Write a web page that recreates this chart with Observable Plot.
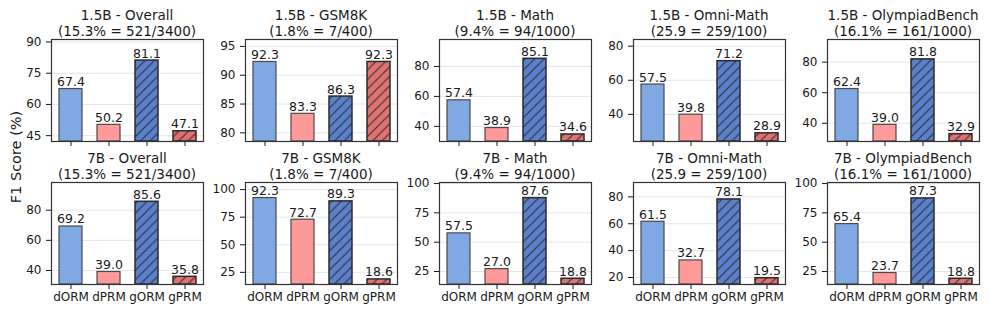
<!DOCTYPE html>
<html><head><meta charset="utf-8">
<script src="https://cdn.jsdelivr.net/npm/d3@7"></script>
<script src="https://cdn.jsdelivr.net/npm/@observablehq/plot@0.6"></script>
<style>
body{margin:0;background:#fff;}
#chart{position:relative;width:990px;height:314px;font-family:"DejaVu Sans",sans-serif;color:#1a1a1a;overflow:hidden;}
.title{position:absolute;text-align:center;font-size:13.5px;line-height:16px;white-space:nowrap;width:200px;}
.panel{position:absolute;}
.ylab{position:absolute;width:140px;text-align:center;font-size:14.5px;line-height:16px;transform:rotate(-90deg);white-space:nowrap;}
</style></head><body>
<svg width="0" height="0" style="position:absolute">
<defs>
<pattern id="hatchBlue" patternUnits="userSpaceOnUse" width="9.5" height="9.5">
<rect width="9.5" height="9.5" fill="#5b80cc"/>
<path d="M-2,2 L2,-2 M0,9.5 L9.5,0 M7.5,11.5 L11.5,7.5" stroke="#2b2b2b" stroke-width="1"/>
</pattern>
<pattern id="hatchRed" patternUnits="userSpaceOnUse" width="9.5" height="9.5">
<rect width="9.5" height="9.5" fill="#e07272"/>
<path d="M-2,2 L2,-2 M0,9.5 L9.5,0 M7.5,11.5 L11.5,7.5" stroke="#2b2b2b" stroke-width="1"/>
</pattern>
</defs>
</svg>
<div id="chart"></div>
<script>
const models = ["dORM", "dPRM", "gORM", "gPRM"];
const sizes = ["1.5B", "7B"];
const benchmarks = ["Overall", "GSM8K", "Math", "Omni-Math", "OlympiadBench"];
const subtitles = ["(15.3% = 521/3400)", "(1.8% = 7/400)", "(9.4% = 94/1000)", "(25.9 = 259/100)", "(16.1% = 161/1000)"];
const scores15B = [
  [67.4, 50.2, 81.1, 47.1],
  [92.3, 83.3, 86.3, 92.3],
  [57.4, 38.9, 85.1, 34.6],
  [57.5, 39.8, 71.2, 28.9],
  [62.4, 39.0, 81.8, 32.9]
];
const scores7B = [
  [69.2, 39.0, 85.6, 35.8],
  [92.3, 72.7, 89.3, 18.6],
  [57.5, 27.0, 87.6, 18.8],
  [61.5, 32.7, 78.1, 19.5],
  [65.4, 23.7, 87.3, 18.8]
];
const yDomains15B = [[42.2, 91.2], [78.5, 96.2], [29.9, 98.0], [24.1, 83.9], [28.1, 94.8]];
const yDomains7B = [[30.7, 98.4], [14.0, 106.4], [13.9, 100.9], [14.8, 90.7], [13.9, 100.9]];
const yTicks15B = [[45, 60, 75, 90], [80, 85, 90, 95], [40, 60, 80], [40, 60, 80], [40, 60, 80]];
const yTicks7B = [[40, 60, 80], [25, 50, 75, 100], [25, 50, 75, 100], [20, 40, 60, 80], [25, 50, 75, 100]];
const yLabel = "F1 Score (%)";

// styles
const barFill = {dORM: "#80a8e2", dPRM: "#ff9a9a", gORM: "url(#hatchBlue)", gPRM: "url(#hatchRed)"};
const barStroke = {dORM: "#4a4a4a", dPRM: "#4a4a4a", gORM: "#2b2b2b", gPRM: "#2b2b2b"};
const barStrokeW = {dORM: 1.2, dPRM: 1.2, gORM: 1.5, gPRM: 1.5};

const chart = document.getElementById("chart");
const frameW = 152, frameH = 102;
const ML = 40, MR = 6, MT = 6, MB = 28;
const colLeft = i => 51 + 194 * i;
const rowTop = [38.5, 182];
const titleY = [15, 157.5];

const rows = [
  {size: sizes[0], scores: scores15B, domains: yDomains15B, ticks: yTicks15B},
  {size: sizes[1], scores: scores7B, domains: yDomains7B, ticks: yTicks7B}
];

rows.forEach((row, r) => {
  benchmarks.forEach((bench, c) => {
    const data = models.map((m, k) => ({model: m, value: row.scores[c][k]}));
    const lo = row.domains[c][0];
    const bottomRow = r === 1;
    const marks = [
      Plot.ruleY(row.ticks[c], {stroke: "#e6e6e6", strokeWidth: 1}),
      Plot.barY(data, {x: "model", y1: lo, y2: "value", fill: d => barFill[d.model]}),
      ...models.map(m => Plot.barY(data.filter(d => d.model === m), {
        x: "model", y1: lo, y2: "value", fill: "none", stroke: barStroke[m], strokeWidth: barStrokeW[m]
      })),
      Plot.text(data, {x: "model", y: "value", text: d => d.value.toFixed(1), dy: -3, lineAnchor: "bottom", fontSize: 12.5, fill: "#1a1a1a"}),
      Plot.frame({stroke: "#333", strokeWidth: 1.2})
    ];
    const p = Plot.plot({
      width: ML + frameW + MR,
      height: MT + frameH + MB,
      marginLeft: ML, marginRight: MR, marginTop: MT, marginBottom: MB,
      style: {fontFamily: "DejaVu Sans", fontSize: "12px", color: "#1a1a1a", background: "transparent", overflow: "visible"},
      color: {type: "identity"},
      x: {domain: models, paddingInner: 0.4, paddingOuter: 0.18, tickSize: 5, tickPadding: 3, label: null,
          tickFormat: bottomRow ? (d => d) : (() => "")},
      y: {domain: row.domains[c], ticks: row.ticks[c], tickSize: 5, tickPadding: 5, label: null, tickFormat: d => String(d)},
      marks
    });
    p.classList.add("panel");
    p.style.left = (colLeft(c) - ML) + "px";
    p.style.top = (rowTop[r] - MT) + "px";
    chart.appendChild(p);

    const t = document.createElement("div");
    t.className = "title";
    t.style.left = (colLeft(c) + frameW / 2 - 100) + "px";
    t.style.top = (titleY[r] - 8) + "px";
    t.innerHTML = `${row.size} - ${bench}<br>${subtitles[c]}`;
    chart.appendChild(t);
  });
});

const yl = document.createElement("div");
yl.className = "ylab";
yl.textContent = yLabel;
yl.style.left = (16 - 70) + "px";
yl.style.top = (157 - 8) + "px";
chart.appendChild(yl);
</script>
</body></html>
